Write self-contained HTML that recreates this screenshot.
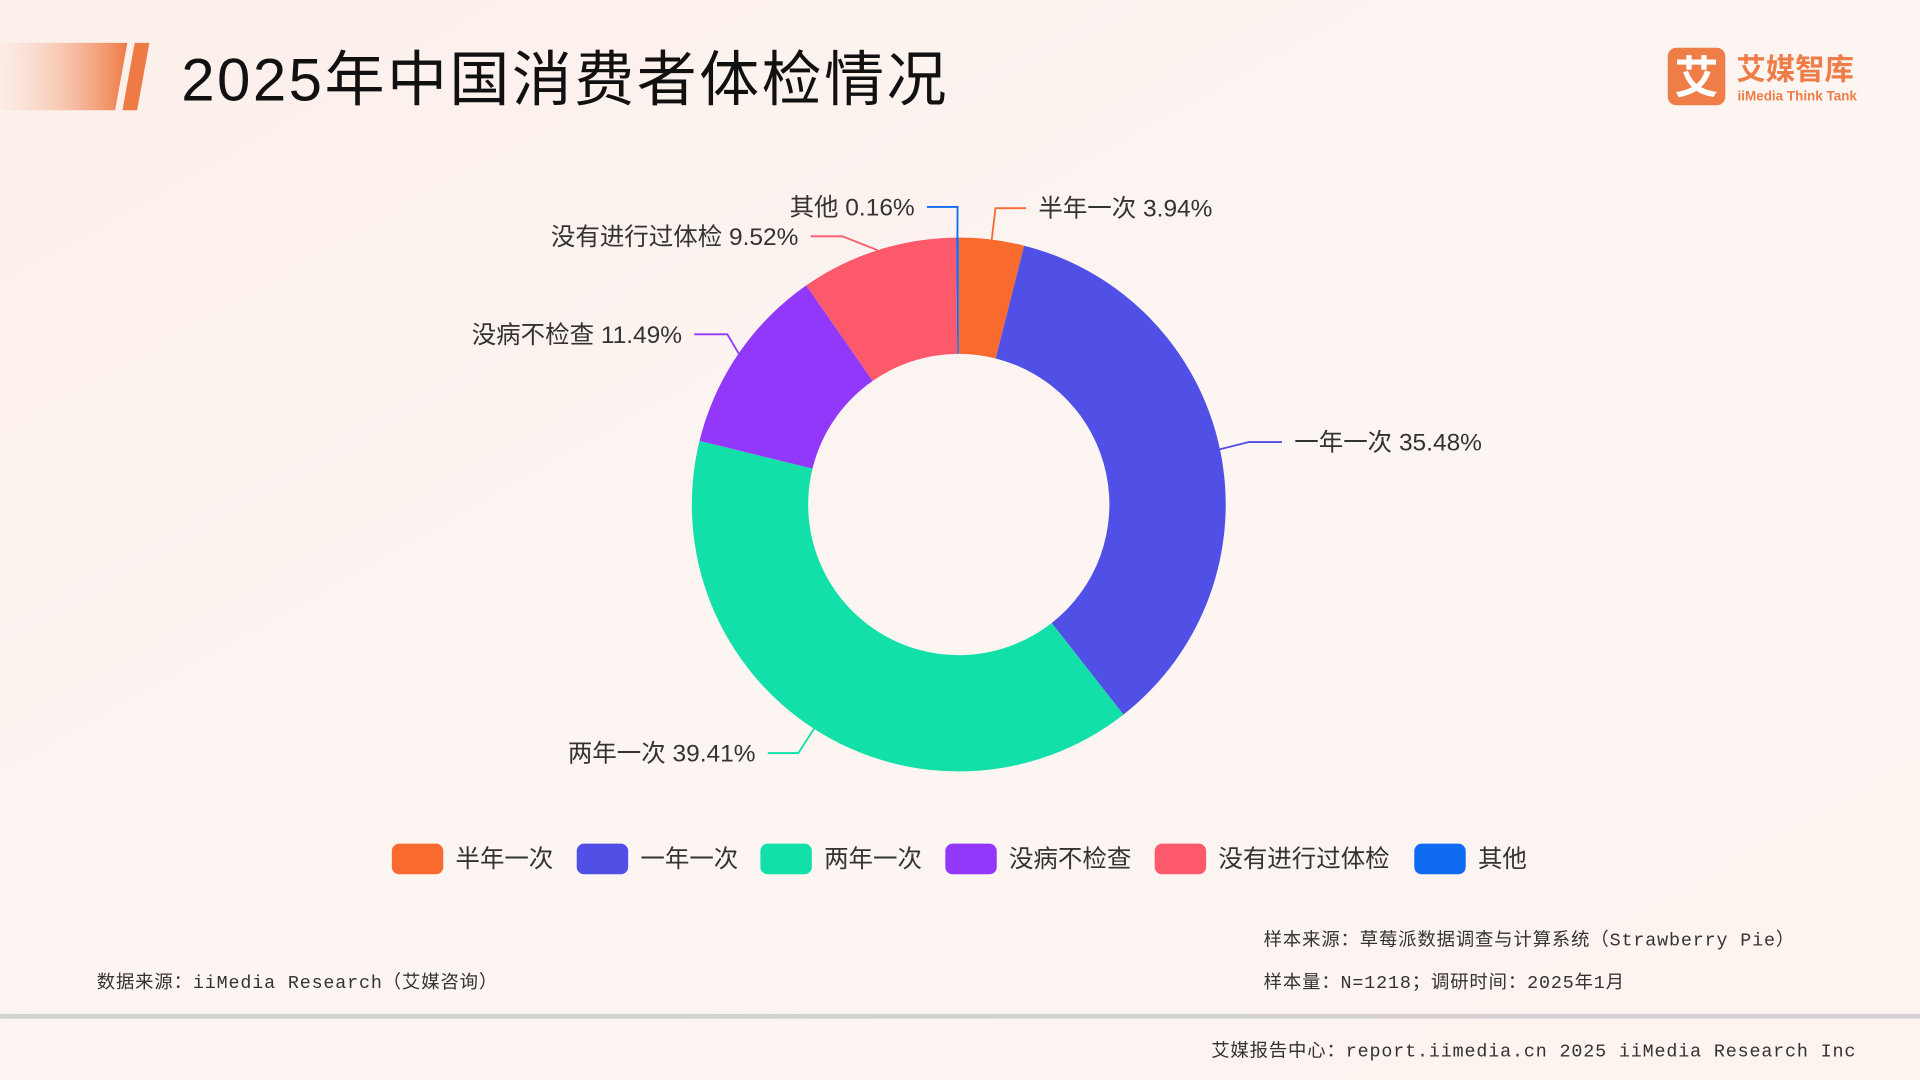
<!DOCTYPE html>
<html><head><meta charset="utf-8">
<style>
html,body{margin:0;padding:0;width:1920px;height:1080px;overflow:hidden;background:#fcf3ef;}
svg{display:block}
text{font-family:"Liberation Sans","Noto Sans CJK SC",sans-serif;}
.mono{font-family:"Liberation Mono","Noto Sans CJK SC",monospace;letter-spacing:0.7px;}
</style></head>
<body>
<svg id="chart" width="1920" height="1080" viewBox="0 0 1568 882" xmlns="http://www.w3.org/2000/svg">
<defs>
<linearGradient id="bg" x1="0" y1="0" x2="1" y2="1">
<stop offset="0" stop-color="#fcefea"/><stop offset="0.5" stop-color="#fcf5f2"/><stop offset="1" stop-color="#fdf4f0"/>
</linearGradient>
<linearGradient id="bar" x1="0" y1="0" x2="1" y2="0">
<stop offset="0" stop-color="#fbe3d8" stop-opacity="0.3"/><stop offset="1" stop-color="#ee7a45"/>
</linearGradient>
</defs>
<rect width="1568" height="882" fill="url(#bg)"/>
<polygon points="0,35 104,35 94,90 0,90" fill="url(#bar)"/>
<polygon points="110,35 122,35 112,90 100,90" fill="#ee7a45"/>
<text x="148" y="82" font-size="49" letter-spacing="2" fill="#111">2025年中国消费者体检情况</text>
<g>
<rect x="1362" y="39" width="47" height="47" rx="7" fill="#ef7d48"/>
<text x="1385.5" y="76" font-size="36" font-weight="bold" fill="#fff" text-anchor="middle">艾</text>
<text x="1418" y="65" font-size="24" font-weight="bold" fill="#ef7d48">艾媒智库</text>
<text x="1419" y="82" font-size="11" font-weight="bold" fill="#ef7d48">iiMedia Think Tank</text>
</g>
<g id="donut"></g>
<g id="labels"></g>
<g id="legend"></g>
<text x="1032" y="772" font-size="15" fill="#333" class="mono">样本来源：草莓派数据调查与计算系统（Strawberry Pie）</text>
<text x="1032" y="807" font-size="15" fill="#333" class="mono">样本量：N=1218；调研时间：2025年1月</text>
<text x="79" y="807" font-size="15" fill="#333" class="mono">数据来源：iiMedia Research（艾媒咨询）</text>
<rect x="0" y="828" width="1568" height="4" fill="#d4d2d1"/>
<text x="1516" y="863" font-size="15" fill="#333" class="mono" text-anchor="end">艾媒报告中心：report.iimedia.cn   2025 iiMedia Research Inc</text>
</svg>
<script>
const categories = ["半年一次","一年一次","两年一次","没病不检查","没有进行过体检","其他"];
const values = [3.94,35.48,39.41,11.49,9.52,0.16];
const colors = ["#f96a2f","#5150e6","#12e0a8","#9138fb","#fc5a6a","#0f6cf2"];
const sliceNames = ["slice-half-year","slice-yearly","slice-two-years","slice-no-check-when-healthy","slice-never-checked","slice-other"];

const NS="http://www.w3.org/2000/svg";
const cx=783, cy=412, R=218, r=123;
const total=values.reduce((a,b)=>a+b,0);
function angleOf(v){return v/total*Math.PI*2;}
function pt(a,rad){return [cx+rad*Math.sin(a), cy-rad*Math.cos(a)];}
const donut=document.getElementById('donut');
const labelsG=document.getElementById('labels');
const layout=[[813,170,838,1],[1020,361,1047,1],[652,615,627,-1],[594,273,567,-1],[688,193,662,-1],[782,169,757,-1]];
let acc=0;
values.forEach((v,i)=>{
  const a0=angleOf(acc), a1=angleOf(acc+v); acc+=v;
  const [x0,y0]=pt(a0,R),[x1,y1]=pt(a1,R),[x2,y2]=pt(a1,r),[x3,y3]=pt(a0,r);
  const large=(a1-a0)>Math.PI?1:0;
  const p=document.createElementNS(NS,'path');
  p.setAttribute('d',`M${x0},${y0}A${R},${R} 0 ${large} 1 ${x1},${y1}L${x2},${y2}A${r},${r} 0 ${large} 0 ${x3},${y3}Z`);
  p.setAttribute('fill',colors[i]);
  
  
  donut.appendChild(p);
  const am=(a0+a1)/2;
  const [sx,sy]=pt(am,R);
  const [ex,ey,tx,side]=layout[i];
  const l=document.createElementNS(NS,'polyline');
  l.setAttribute('points',`${sx},${sy} ${ex},${ey} ${tx},${ey}`);
  l.setAttribute('fill','none');l.setAttribute('stroke',colors[i]);l.setAttribute('stroke-width','1.5');
  
  
  labelsG.appendChild(l);
  const t=document.createElementNS(NS,'text');
  t.setAttribute('x',tx+side*10);t.setAttribute('y',ey+7);
  t.setAttribute('font-size','20');t.setAttribute('fill','#333');
  t.setAttribute('text-anchor',side>0?'start':'end');
  t.textContent=categories[i]+' '+values[i].toFixed(2)+'%';
  
  
  labelsG.appendChild(t);
});
const legend=document.getElementById('legend');
const legX=[320,471,621,772,943,1155];
categories.forEach((c,i)=>{
  const g=document.createElementNS(NS,'g');
  
  
  const rr=document.createElementNS(NS,'rect');
  rr.setAttribute('x',legX[i]);rr.setAttribute('y',689);rr.setAttribute('width',42);rr.setAttribute('height',25);
  rr.setAttribute('rx',6);rr.setAttribute('fill',colors[i]);
  
  
  const t=document.createElementNS(NS,'text');
  t.setAttribute('x',legX[i]+52);t.setAttribute('y',708);t.setAttribute('font-size','20');t.setAttribute('fill','#333');
  t.textContent=c;
  
  
  g.appendChild(rr);g.appendChild(t);legend.appendChild(g);
});
</script>
</body></html>
